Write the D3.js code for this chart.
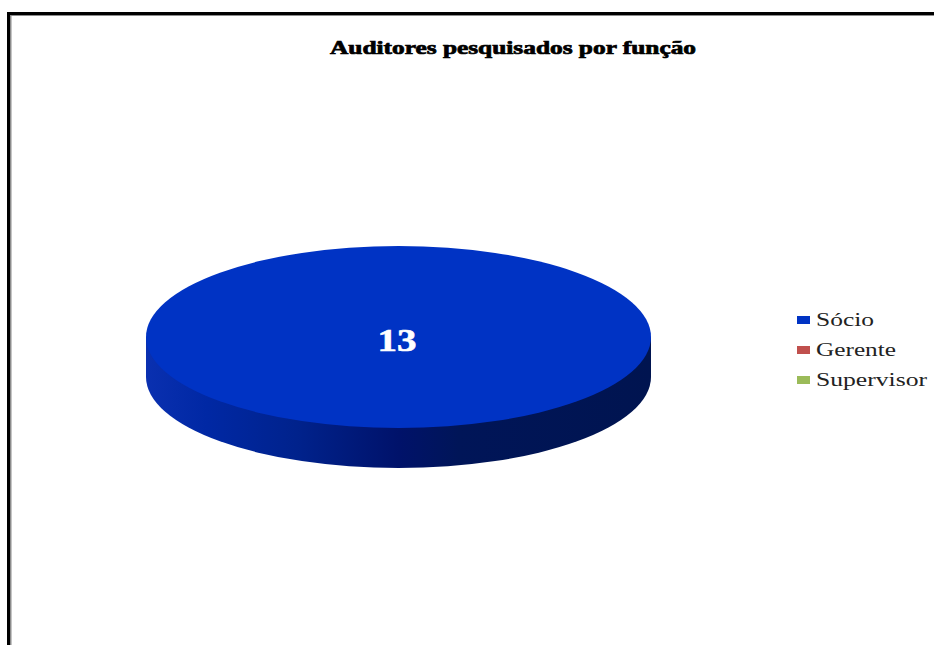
<!DOCTYPE html>
<html><head><meta charset="utf-8">
<style>html,body{margin:0;padding:0;background:#fff}svg{display:block}</style>
<script src="https://cdn.jsdelivr.net/npm/d3@7"></script></head>
<body><svg id="c" width="934" height="645"></svg>
<script>
const title = "Auditores pesquisados por função";
const categories = ["Sócio","Gerente","Supervisor"];
const values = [13,0,0];
const colors = ["#0033c4","#c0504d","#9bbb59"];

const svg = d3.select("#c");
svg.append("rect").attr("width",934).attr("height",645).attr("fill","#fff");
// frame
svg.append("path").attr("d","M10.5,645V15H934").attr("fill","none").attr("stroke","#8c8c8c").attr("stroke-width",2);
svg.append("path").attr("d","M8.5,645V13.5H934").attr("fill","none").attr("stroke","#000").attr("stroke-width",3);

const cx=398.5, cy=337, rx=252.5, ry=91, depth=40;
const defs = svg.append("defs");
const grad = defs.append("linearGradient").attr("id","side").attr("gradientUnits","userSpaceOnUse")
  .attr("x1",-rx).attr("x2",rx).attr("y1",0).attr("y2",0);
[[0,"#0a30b0"],[0.12,"#0028a4"],[0.3,"#00228c"],[0.5,"#00126a"],[0.62,"#001558"],[1,"#001450"]]
  .forEach(s=>grad.append("stop").attr("offset",s[0]).attr("stop-color",s[1]));

const pie = d3.pie().sort(null)(values);
const arc = d3.arc().innerRadius(0).outerRadius(rx);
const yScale = ry/rx;
const wall = svg.append("g").attr("transform",`translate(${cx},${cy})`);
wall.append("path").attr("d",arc({startAngle:0,endAngle:2*Math.PI}))
  .attr("transform",`translate(0,${depth}) scale(1,${yScale})`).attr("fill","url(#side)");
wall.append("rect").attr("x",-rx).attr("y",0).attr("width",2*rx).attr("height",depth).attr("fill","url(#side)");
svg.append("g").selectAll("path").data(pie.filter(d=>d.value>0)).join("path")
  .attr("d",arc).attr("transform",`translate(${cx},${cy}) scale(1,${yScale})`)
  .attr("fill",d=>colors[d.index]);

svg.selectAll("text.v").data(pie.filter(d=>d.value>0)).join("text").attr("class","v")
  .attr("x",397).attr("y",351).attr("text-anchor","middle").attr("fill","#fff")
  .attr("stroke","#fff").attr("stroke-width",0.6)
  .attr("font-family","Liberation Serif").attr("font-weight","bold").attr("font-size",31)
  .attr("textLength",39).attr("lengthAdjust","spacingAndGlyphs").text(d=>d.value);

svg.append("text").attr("x",330).attr("y",54).attr("font-family","Liberation Serif").attr("font-weight","bold")
  .attr("font-size",18).attr("textLength",366).attr("lengthAdjust","spacingAndGlyphs")
  .attr("stroke","#000").attr("stroke-width",0.7).text(title);

const y = d3.scalePoint().domain(categories).range([320,380]);
const leg = svg.append("g").selectAll("g").data(categories).join("g")
  .attr("transform",d=>`translate(0,${y(d)})`);
leg.append("rect").attr("x",797).attr("y",-4).attr("width",13).attr("height",8).attr("fill",(d,i)=>colors[i]);
const widths=[58,80,111];
leg.append("text").attr("x",816).attr("y",6).attr("font-family","Liberation Serif").attr("font-size",19)
  .attr("fill","#222").attr("textLength",(d,i)=>widths[i]).attr("lengthAdjust","spacingAndGlyphs").text(d=>d);
</script></body></html>
